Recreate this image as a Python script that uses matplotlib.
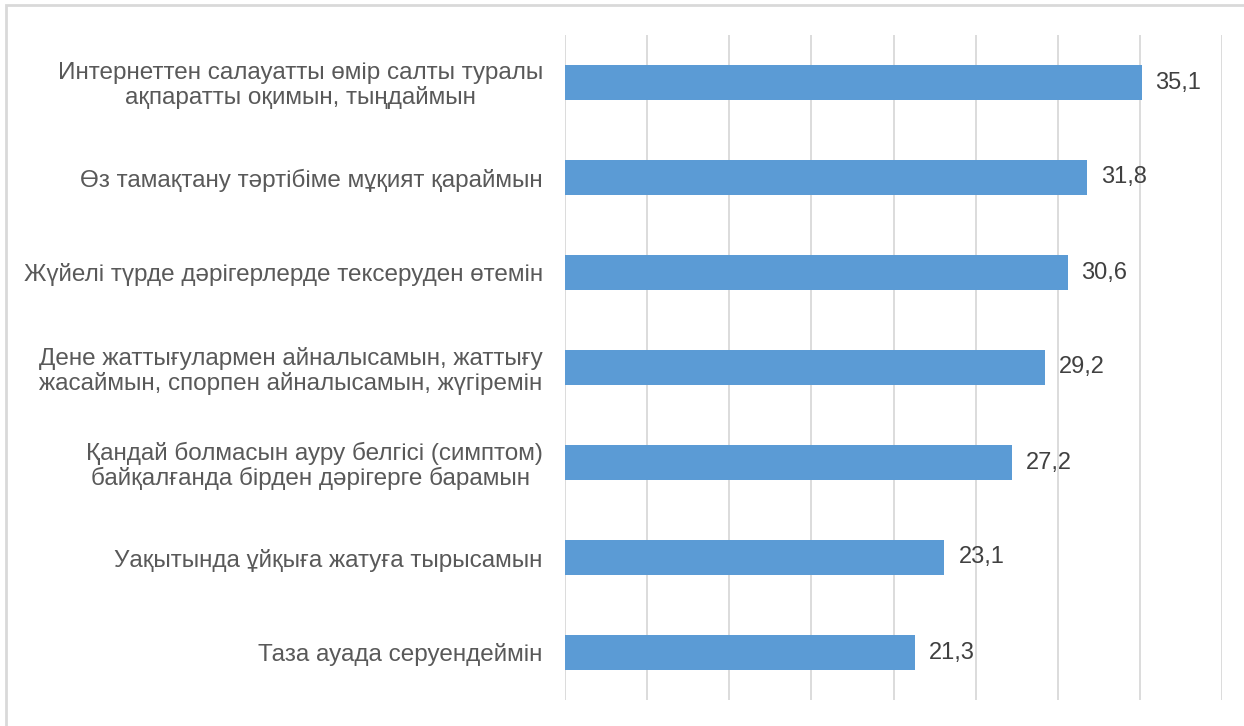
import matplotlib.pyplot as plt
from matplotlib.patches import Rectangle

plt.rcParams['font.family'] = ['Liberation Sans', 'DejaVu Sans']

labels = [
    'Интернеттен салауатты өмір салты туралы\nақпаратты оқимын, тыңдаймын',
    'Өз тамақтану тәртібіме мұқият қараймын',
    'Жүйелі түрде дәрігерлерде тексеруден өтемін',
    'Дене жаттығулармен айналысамын, жаттығу\nжасаймын, спорпен айналысамын, жүгіремін',
    'Қандай болмасын ауру белгісі (симптом)\nбайқалғанда бірден дәрігерге барамын ',
    'Уақытында ұйқыға жатуға тырысамын',
    'Таза ауада серуендеймін',
]
values = [35.1, 31.8, 30.6, 29.2, 27.2, 23.1, 21.3]
value_text = ['35,1', '31,8', '30,6', '29,2', '27,2', '23,1', '21,3']

fig = plt.figure(figsize=(12.44, 7.26), dpi=100)
ax = fig.add_axes([565 / 1244, 1 - 700 / 726, (1222 - 565) / 1244, (700 - 35) / 726])

# outer chart border (only top and left visible in the crop)
fig.patches.append(Rectangle((6 / 1244, -0.05), 1.2, 1 - 5 / 726 + 0.05,
                             transform=fig.transFigure, fill=False,
                             edgecolor='#d9d9d9', linewidth=2))

y = list(range(len(values)))
ax.barh(y, values, height=0.36, color='#5b9bd5', zorder=2)
for yi, v, t in zip(y, values, value_text):
    ax.text(v + 0.85, yi, t, va='center', ha='left', fontsize=17, color='#404040')

ax.set_xlim(0, 40)
ax.set_ylim(len(values) - 0.5, -0.5)
ax.set_xticks(range(0, 41, 5))
ax.set_xticklabels([])
ax.grid(axis='x', color='#d9d9d9', linewidth=1.3, zorder=0)
ax.tick_params(axis='x', length=0)
ax.tick_params(axis='y', length=0, pad=16)
ax.set_yticks(y)
ax.set_yticklabels(labels, fontsize=17.5, color='#595959')
for lab in ax.get_yticklabels():
    lab.set_multialignment('center')
    lab.set_linespacing(1.1)
for s in ax.spines.values():
    s.set_visible(False)

fig.savefig('out.png', dpi=100)
